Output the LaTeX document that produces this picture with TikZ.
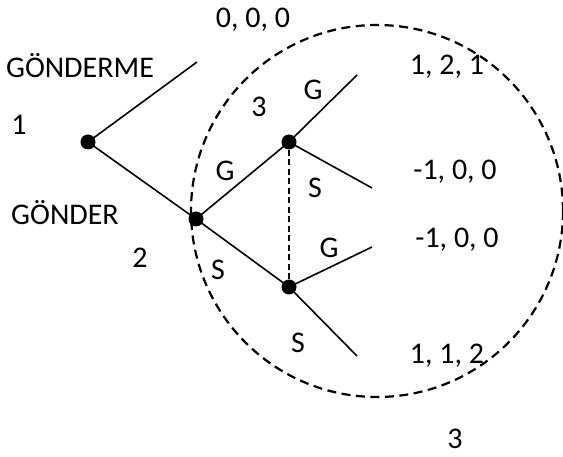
\documentclass[tikz,border=0pt]{standalone}
\usepackage{fontspec}
\setmainfont{Carlito}
\usetikzlibrary{positioning}

\begin{document}
\begin{tikzpicture}[
      x=1pt, y=-1pt,
      every node/.style={font=\fontsize{30}{34}\selectfont, inner sep=0pt},
      dot/.style={circle, fill=black, minimum size=15pt},
      branch/.style={line width=1.6pt},
      infoset/.style={line width=1.4pt, dash pattern=on 6pt off 3.5pt},
      subgame/.style={line width=2.2pt, dash pattern=on 9pt off 5.5pt}
    ]
      \useasboundingbox (0,0) rectangle (563,457);
      % decision points
      \node[dot] (p1) at (88,142) {};
      \node[dot] (p2) at (196,219) {};
      \node[dot] (p3) at (289,142) {};
      \node[dot] (p4) at (289,287) {};
      % loose ends
      \coordinate (e1) at (197,62);
      \coordinate (e3g) at (357,75);
      \coordinate (e3s) at (372,188);
      \coordinate (e4g) at (372,247);
      \coordinate (e4s) at (357,356);
      \draw[branch] (p1.center) -- (e1);
      \draw[branch] (p1.center) -- (p2.center);
      \draw[branch] (p2.center) -- (p3.center);
      \draw[branch] (p2.center) -- (p4.center);
      \draw[branch] (p3.center) -- (e3g);
      \draw[branch] (p3.center) -- (e3s);
      \draw[branch] (p4.center) -- (e4g);
      \draw[branch] (p4.center) -- (e4s);
      \draw[infoset] (p3) -- (p4);
      \draw[subgame] (377,211) circle (186pt);
      % labels
      \node (pay0) at (253,20) {0, 0, 0};
      \node (no) at (80,66) {GÖNDERME};
      \node (pl1) at (19,125) {1};
      \node (yes) at (65,213) {GÖNDER};
      \node (pl2) at (140,258) {2};
      \node (pl3) at (259,107) {3};
      \node (g2) at (225,171) {G};
      \node (s2) at (218,270) {S};
      \node (g3) at (313,90) {G};
      \node (s3) at (315,188) {S};
      \node (g4) at (329,248) {G};
      \node (s4) at (298,343) {S};
      \node (pay1) at (447,67) {1, 2, 1};
      \node (pay2) at (455,172) {-1, 0, 0};
      \node (pay3) at (457,240) {-1, 0, 0};
      \node (pay4) at (447,356) {1, 1, 2};
      \node (pl3b) at (455,439) {3};
    \end{tikzpicture}
\end{document}
